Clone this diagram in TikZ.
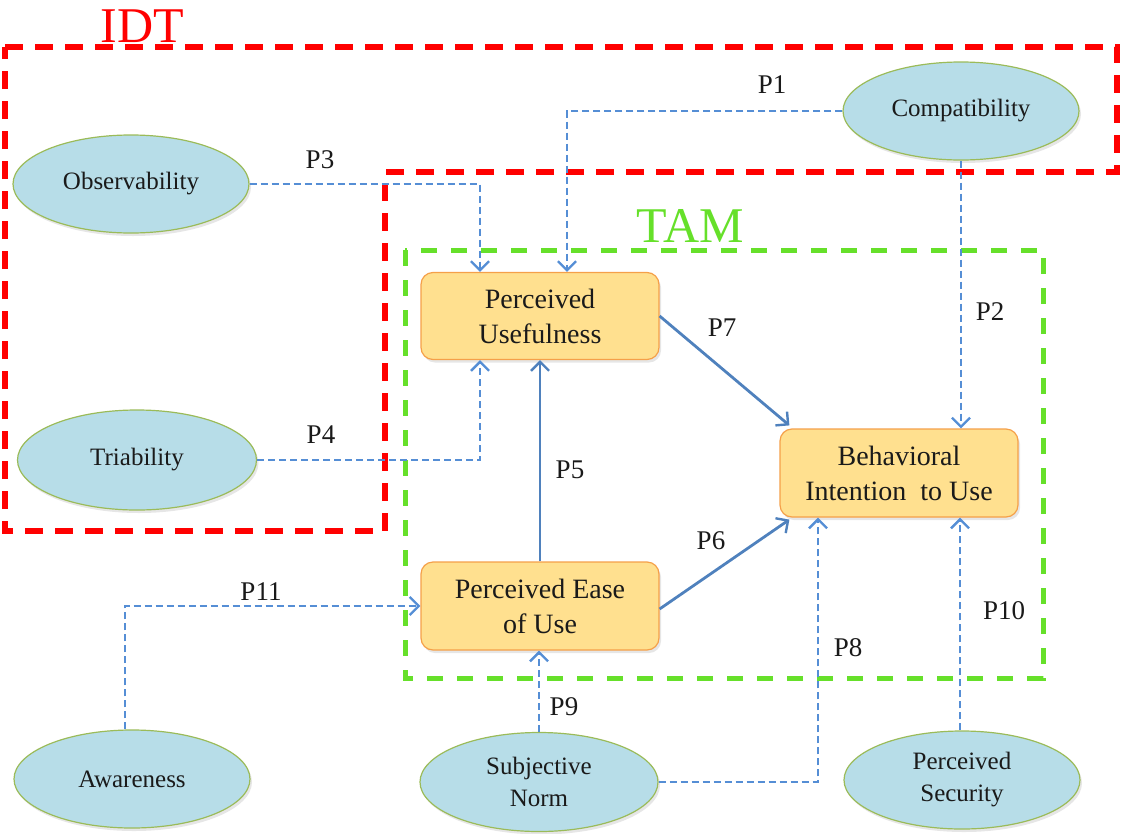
\documentclass[tikz,border=0pt]{standalone}
\usepackage{fontspec}
\setmainfont{Liberation Serif}
\newfontfamily\tnr{Liberation Serif}
\usetikzlibrary{arrows.meta,shadows,calc,shapes.geometric}
\definecolor{ellfill}{HTML}{B7DDE8}
\definecolor{elldraw}{HTML}{9BBB59}
\definecolor{boxfill}{HTML}{FFE08F}
\definecolor{boxdraw}{HTML}{F5A049}
\definecolor{arrblue}{HTML}{4F81BD}
\definecolor{dashblue}{HTML}{558ED5}
\definecolor{idtred}{HTML}{FF0000}
\definecolor{tamgreen}{HTML}{66E02A}
\definecolor{txt}{HTML}{1A1A1A}
\tikzset{
  construct/.style={ellipse, draw=elldraw, line width=1.2pt, fill=ellfill,
    minimum width=236pt, minimum height=98pt, inner sep=0pt, align=center,
    text=txt, font=\tnr\fontsize{25}{32}\selectfont,
    drop shadow={shadow xshift=2pt, shadow yshift=-3pt, opacity=0.2, fill=gray}},
  tambox/.style={rectangle, rounded corners=12pt, draw=boxdraw, line width=1.2pt, fill=boxfill,
    minimum width=238pt, minimum height=87pt, inner sep=0pt, align=center,
    text=txt, font=\tnr\fontsize{28}{35}\selectfont,
    drop shadow={shadow xshift=2pt, shadow yshift=-3pt, opacity=0.2, fill=gray}},
  plabel/.style={text=txt, font=\tnr\fontsize{27}{30}\selectfont, inner sep=0pt},
  dasharrow/.style={draw=dashblue, line width=2.8pt, dash pattern=on 7pt off 4pt,
    -{Straight Barb[length=9pt, width=18pt, line width=2.4pt]}},
  solidarrow/.style={draw=arrblue, line width=2.8pt,
    -{Straight Barb[length=9pt, width=18pt, line width=2.4pt]}},
  idtframe/.style={draw=idtred, line width=5.5pt, dash pattern=on 18pt off 12pt},
  tamframe/.style={draw=tamgreen, line width=5pt, dash pattern=on 16pt off 14pt},
}
\begin{document}
\begin{tikzpicture}[x=1pt, y=-1pt]
\useasboundingbox (0,0) rectangle (1122,833);

% frames
\draw[idtframe] (5,47) -- (1117,47) -- (1117,172) -- (385,172) -- (385,531) -- (5,531) -- cycle;
\draw[tamframe] (405,250) rectangle (1043,678);
\node[text=idtred, font=\tnr\fontsize{50}{50}\selectfont, inner sep=0pt] (idt) at (142,26) {IDT};
\node[text=tamgreen, font=\tnr\fontsize{50}{50}\selectfont, inner sep=0pt] (tam) at (690,226) {TAM};

% constructs
\node[construct] (comp) at (961,111) {Compatibility};
\node[construct] (obs) at (131,184) {Observability};
\node[construct, minimum width=239pt, minimum height=100pt] (tri) at (137,460) {Triability};
\node[construct] (aw) at (132,779) {Awareness};
\node[construct, minimum width=238pt, minimum height=99pt] (sn) at (539,782) {Subjective\\Norm};
\node[construct] (ps) at (962,780) {Perceived\\Security};

\node[tambox] (pu) at (540,316) {Perceived\\Usefulness};
\node[tambox, minimum height=88pt] (bi) at (899,473) {Behavioral\\Intention\ \ to Use};
\node[tambox, minimum height=88pt] (peu) at (540,606) {Perceived Ease\\of Use};

% connectors
\draw[dasharrow] (comp.west) -| ([xshift=27pt]pu.north);
\draw[dasharrow] (comp.south) -- (comp.south |- bi.north);
\draw[dasharrow] (obs.east) -| ([xshift=-60pt]pu.north);
\draw[dasharrow] (tri.east) -| ([xshift=-60pt]pu.south);
\draw[solidarrow] (peu.north) -- (pu.south);
\draw[solidarrow] ([yshift=-3pt]peu.east) -- ([xshift=10pt,yshift=-2pt]bi.south west);
\draw[solidarrow] (pu.east) -- ([xshift=10pt,yshift=3pt]bi.north west);
\draw[dasharrow] (sn.east) -| ([xshift=-81pt]bi.south);
\draw[dasharrow] (sn.north) -- (sn.north |- peu.south);
\draw[dasharrow] ([xshift=-2pt]ps.north) -- ([xshift=-2pt]ps.north |- bi.south);
\draw[dasharrow] ([xshift=-7pt]aw.north) |- (peu.west);

% labels
\node[plabel] (l1) at (772,85) {P1};
\node[plabel] (l2) at (990,312) {P2};
\node[plabel] (l3) at (320,160) {P3};
\node[plabel] (l4) at (321,435) {P4};
\node[plabel] (l5) at (570,470) {P5};
\node[plabel] (l6) at (711,541) {P6};
\node[plabel] (l7) at (722,328) {P7};
\node[plabel] (l8) at (848,648) {P8};
\node[plabel] (l9) at (564,707) {P9};
\node[plabel] (l10) at (1004,611) {P10};
\node[plabel] (l11) at (261,592) {P11};
\end{tikzpicture}
\end{document}
